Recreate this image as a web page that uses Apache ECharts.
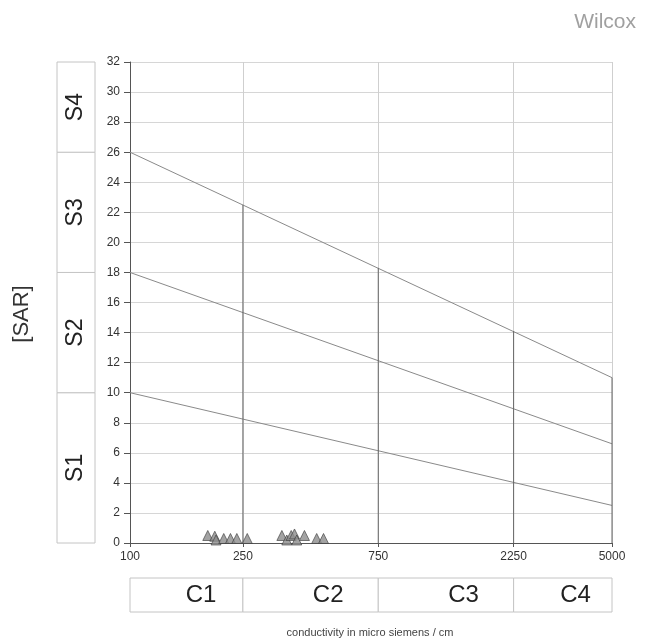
<!DOCTYPE html>
<html>
<head>
<meta charset="utf-8">
<script src="https://cdn.jsdelivr.net/npm/echarts@6/dist/echarts.min.js"></script>
<style>
  html, body { margin: 0; padding: 0; background: #fff; }
  #chart { width: 649px; height: 643px; }
</style>
</head>
<body>
<div id="chart"></div>
<script>
// conductivity ticks (micro siemens / cm), log axis
const condTicks = [100, 250, 750, 2250, 5000];
// salinity classes along the bottom
const condClasses = ['C1', 'C2', 'C3', 'C4'];
// sodium classes along the left side, with their SAR bounds at 100 uS/cm
const sarClasses = ['S1', 'S2', 'S3', 'S4'];
const sarBounds = [0, 10, 18, 26, 32];

// class boundary lines: SAR at 100 and at 5000
const lineStart = [10, 18, 26];
const lineEnd = [2.5, 6.6, 11];
// height of the dark vertical dividers at 250, 750, 2250, 5000
const dividerX = [250, 750, 2250, 5000];
const dividerTop = [22.5, 18.3, 14.1, 11];

// samples
const sampleEC = [188, 199, 201, 214, 226, 238, 259, 343, 357, 370, 380, 387, 412, 455, 481];
const sampleSAR = [0.5, 0.45, 0.2, 0.3, 0.3, 0.3, 0.3, 0.5, 0.2, 0.5, 0.6, 0.2, 0.5, 0.3, 0.3];

const font = 'Liberation Sans, Arial, sans-serif';
const chart = echarts.init(document.getElementById('chart'));

const classLines = lineStart.map((s, i) => ({
  type: 'line',
  xAxisIndex: 0, yAxisIndex: 0,
  data: [[condTicks[0], s], [condTicks[condTicks.length - 1], lineEnd[i]]],
  symbol: 'none',
  silent: true,
  lineStyle: { color: '#8a8a8a', width: 1 },
  z: 4
}));

const dividers = dividerX.map((x, i) => ({
  type: 'line',
  xAxisIndex: 0, yAxisIndex: 0,
  data: [[x, 0], [x, dividerTop[i]]],
  symbol: 'none',
  silent: true,
  lineStyle: { color: '#666', width: 1 },
  z: 4
}));

const sBoxes = sarClasses.map((name, i) => [sarBounds[i], sarBounds[i + 1], name]);
const cBoxes = condClasses.map((name, i) => [condTicks[i], condTicks[i + 1], name]);

const option = {
  animation: false,
  backgroundColor: '#fff',
  title: {
    text: 'Wilcox',
    right: 8, top: 7,
    textStyle: { color: '#a0a0a0', fontWeight: 'normal', fontSize: 21, fontFamily: font }
  },
  graphic: [
    {
      type: 'text', x: 22, y: 314, rotation: Math.PI / 2,
      style: { text: '[SAR]', fill: '#333', font: '22px ' + font, align: 'center', verticalAlign: 'middle' }
    },
    {
      type: 'text', x: 370, y: 633,
      style: { text: 'conductivity in micro siemens / cm', fill: '#444', font: '11px ' + font, align: 'center', verticalAlign: 'middle' }
    }
  ],
  grid: [
    { left: 130, right: 37, top: 62, bottom: 100 },
    { left: 57, width: 38, top: 62, bottom: 100 },
    { left: 130, right: 37, top: 578, height: 34 }
  ],
  xAxis: [
    {
      type: 'log', gridIndex: 0, min: 100, max: 5000, logBase: 10,
      axisLine: { lineStyle: { color: '#555' } },
      axisTick: { customValues: condTicks, length: 4, lineStyle: { color: '#555' } },
      axisLabel: {
        customValues: condTicks, color: '#333', fontSize: 12, fontFamily: font, margin: 8,
        formatter: v => String(Math.round(v))
      },
      splitLine: { show: false },
      minorTick: { show: false }
    },
    { type: 'value', gridIndex: 1, min: 0, max: 1, show: false },
    { type: 'log', gridIndex: 2, min: 100, max: 5000, show: false }
  ],
  yAxis: [
    {
      type: 'value', gridIndex: 0, min: 0, max: 32, interval: 2,
      axisLine: { show: true, lineStyle: { color: '#555' } },
      axisTick: { show: true, length: 6, lineStyle: { color: '#555' } },
      axisLabel: { color: '#333', fontSize: 12, fontFamily: font, margin: 10 },
      splitLine: { lineStyle: { color: '#d6d6d6' } }
    },
    { type: 'value', gridIndex: 1, min: 0, max: 32, show: false },
    { type: 'value', gridIndex: 2, min: 0, max: 1, show: false }
  ],
  series: [
    {
      type: 'line',
      xAxisIndex: 0, yAxisIndex: 0,
      data: [],
      silent: true,
      z: 1,
      markLine: {
        silent: true, symbol: 'none', label: { show: false }, z: 1,
        lineStyle: { color: '#cfcfcf', width: 1, type: 'solid' },
        data: dividerX.map(x => ({ xAxis: x }))
      }
    },
    ...classLines,
    ...dividers,
    {
      type: 'scatter',
      xAxisIndex: 0, yAxisIndex: 0,
      data: sampleEC.map((x, i) => [x, sampleSAR[i]]),
      symbol: 'triangle',
      symbolSize: 10,
      itemStyle: { color: '#8c8c8c', borderColor: '#3a3a3a', borderWidth: 0.8 },
      z: 6
    },
    {
      type: 'custom',
      xAxisIndex: 1, yAxisIndex: 1,
      data: sBoxes,
      silent: true,
      renderItem: (params, api) => {
        const p0 = api.coord([0, api.value(0)]);
        const p1 = api.coord([1, api.value(1)]);
        return {
          type: 'group',
          children: [
            {
              type: 'rect',
              shape: { x: p0[0], y: p1[1], width: p1[0] - p0[0], height: p0[1] - p1[1] },
              style: { fill: '#fff', stroke: '#c4c4c4', lineWidth: 1 }
            },
            {
              type: 'text',
              x: (p0[0] + p1[0]) / 2, y: (p0[1] + p1[1]) / 2,
              rotation: Math.PI / 2,
              style: { text: sarClasses[params.dataIndex], fill: '#222', font: '23px ' + font, align: 'center', verticalAlign: 'middle' }
            }
          ]
        };
      }
    },
    {
      type: 'custom',
      xAxisIndex: 2, yAxisIndex: 2,
      data: cBoxes,
      silent: true,
      renderItem: (params, api) => {
        const p0 = api.coord([api.value(0), 0]);
        const p1 = api.coord([api.value(1), 1]);
        const w = p1[0] - p0[0];
        return {
          type: 'group',
          children: [
            {
              type: 'rect',
              shape: { x: p0[0], y: p1[1], width: w, height: p0[1] - p1[1] },
              style: { fill: '#fff', stroke: '#c4c4c4', lineWidth: 1 }
            },
            {
              type: 'text',
              x: p0[0] + w * 0.63, y: (p0[1] + p1[1]) / 2,
              style: { text: condClasses[params.dataIndex], fill: '#222', font: '24px ' + font, align: 'center', verticalAlign: 'middle' }
            }
          ]
        };
      }
    }
  ]
};

chart.setOption(option);
</script>
</body>
</html>
